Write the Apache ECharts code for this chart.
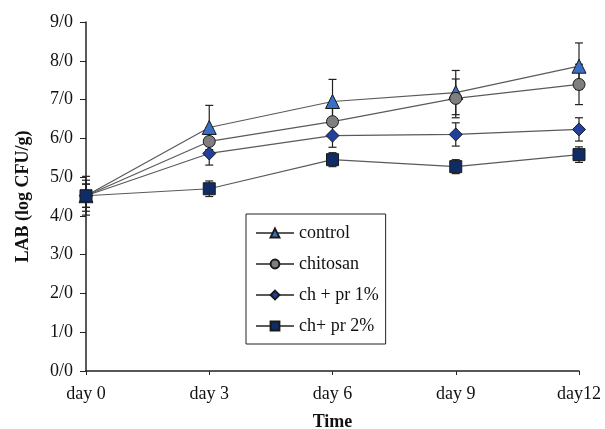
<!DOCTYPE html>
<html>
<head>
<meta charset="utf-8">
<script src="https://cdn.jsdelivr.net/npm/echarts@6/dist/echarts.min.js"></script>
<style>
  html, body { margin: 0; padding: 0; background: #fff; }
  #chart { width: 605px; height: 429px; }
</style>
</head>
<body>
<div id="chart"></div>
<script>
const days = ["day 0", "day 3", "day 6", "day 9", "day12"];
const yTickLabels = ["0/0", "1/0", "2/0", "3/0", "4/0", "5/0", "6/0", "7/0", "8/0", "9/0"];

const controlVals = [4.52, 6.28, 6.95, 7.18, 7.86];
const controlErr = [0.5, 0.57, 0.57, 0.57, 0.6];
const chitosanVals = [4.52, 5.92, 6.43, 7.03, 7.39];
const chitosanErr = [0.4, 0.35, 0.35, 0.5, 0.52];
const pr1Vals = [4.52, 5.61, 6.07, 6.1, 6.23];
const pr1Err = [0.3, 0.3, 0.3, 0.3, 0.3];
const pr2Vals = [4.52, 4.7, 5.45, 5.27, 5.58];
const pr2Err = [0.3, 0.2, 0.18, 0.18, 0.2];

const seriesDefs = [
  { name: "control", vals: controlVals, err: controlErr, symbol: "triangle", size: 14, color: "#3a6fc6" },
  { name: "chitosan", vals: chitosanVals, err: chitosanErr, symbol: "circle", size: 12, color: "#7f7f7f" },
  { name: "ch + pr 1%", vals: pr1Vals, err: pr1Err, symbol: "diamond", size: 13, color: "#213f9c" },
  { name: "ch+ pr 2%", vals: pr2Vals, err: pr2Err, symbol: "rect", size: 12, color: "#0f2c66" }
];

const chart = echarts.init(document.getElementById("chart"));
const font = "'Liberation Serif', 'Times New Roman', serif";

const errorSeries = seriesDefs.map((s) => ({
  type: "custom",
  name: s.name + " err",
  z: 1,
  silent: true,
  data: s.vals.map((v, i) => [i, v - s.err[i], v + s.err[i]]),
  renderItem: (params, api) => {
    const lo = api.coord([api.value(0), api.value(1)]);
    const hi = api.coord([api.value(0), api.value(2)]);
    const cap = 4;
    const style = { stroke: "#222", lineWidth: 1.2 };
    return {
      type: "group",
      children: [
        { type: "line", shape: { x1: lo[0], y1: lo[1], x2: hi[0], y2: hi[1] }, style },
        { type: "line", shape: { x1: lo[0] - cap, y1: lo[1], x2: lo[0] + cap, y2: lo[1] }, style },
        { type: "line", shape: { x1: hi[0] - cap, y1: hi[1], x2: hi[0] + cap, y2: hi[1] }, style }
      ]
    };
  }
}));

const lineSeries = seriesDefs.map((s) => ({
  type: "line",
  name: s.name,
  z: 3,
  data: s.vals,
  symbol: s.symbol,
  symbolSize: s.size,
  lineStyle: { color: "#5a5a5a", width: 1.2 },
  itemStyle: { color: s.color, borderColor: "#1a1a1a", borderWidth: 1 }
}));

chart.setOption({
  animation: false,
  backgroundColor: "#fff",
  grid: { left: 86, right: 26, top: 22, bottom: 58, outerBoundsMode: "none" },
  legend: {
    orient: "vertical",
    left: 246,
    top: 214,
    data: seriesDefs.map((s) => s.name),
    itemWidth: 38,
    itemHeight: 11,
    itemGap: 11,
    padding: [9, 7, 8, 9],
    borderColor: "#222",
    borderWidth: 1,
    textStyle: { fontFamily: font, fontSize: 18, color: "#111", lineHeight: 20 }
  },
  xAxis: {
    type: "category",
    data: days,
    boundaryGap: false,
    name: "Time",
    nameLocation: "middle",
    nameGap: 42,
    nameTextStyle: { fontFamily: font, fontSize: 18, fontWeight: "bold", color: "#111" },
    axisLine: { lineStyle: { color: "#222", width: 1.5 } },
    axisTick: { show: true, alignWithLabel: true, length: 4, lineStyle: { color: "#222" } },
    axisLabel: { fontFamily: font, fontSize: 18, color: "#111", margin: 14 },
    splitLine: { show: false }
  },
  yAxis: {
    type: "value",
    min: 0,
    max: 9,
    interval: 1,
    name: "LAB (log CFU/g)",
    nameLocation: "middle",
    nameGap: 54,
    nameTextStyle: { fontFamily: font, fontSize: 18, fontWeight: "bold", color: "#111" },
    axisLine: { show: true, lineStyle: { color: "#222", width: 1.5 } },
    axisTick: { show: true, length: 6, lineStyle: { color: "#222" } },
    axisLabel: {
      fontFamily: font,
      fontSize: 18,
      color: "#111",
      margin: 13,
      formatter: (v) => yTickLabels[Math.round(v)]
    },
    splitLine: { show: false }
  },
  series: [...errorSeries, ...lineSeries]
});
</script>
</body>
</html>
